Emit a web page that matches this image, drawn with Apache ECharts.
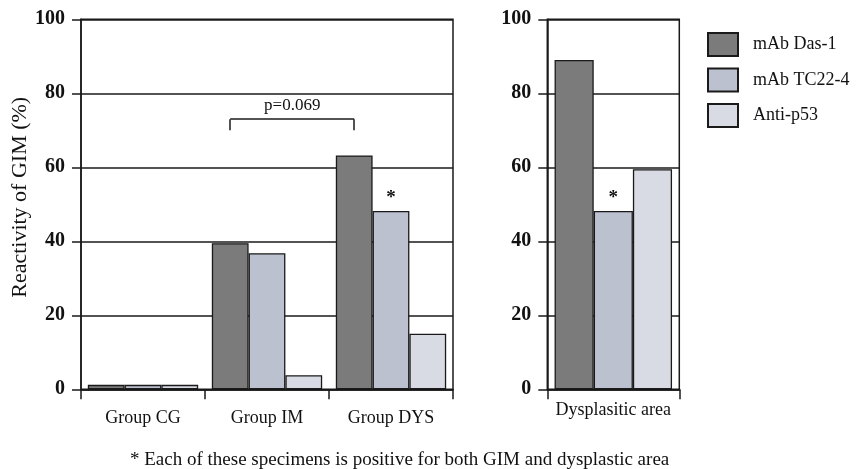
<!DOCTYPE html>
<html>
<head>
<meta charset="utf-8">
<script src="https://cdn.jsdelivr.net/npm/echarts@6/dist/echarts.min.js"></script>
<style>
html,body{margin:0;padding:0;background:#fff;}
#main{width:856px;height:469px;}
</style>
</head>
<body>
<div id="main"></div>
<script>
// ---- data ----
var groupCategories = ['Group CG', 'Group IM', 'Group DYS'];
var areaCategories = ['Dysplasitic area'];
var seriesNames = ['mAb Das-1', 'mAb TC22-4', 'Anti-p53'];
var das1Groups = [1.2, 39.5, 63.2];
var tc224Groups = [1.2, 36.8, 48.2];
var p53Groups = [1.2, 3.8, 15];
var das1Area = [89];
var tc224Area = [48.2];
var p53Area = [59.5];
var yTicks = [0, 20, 40, 60, 80, 100];
var starGroupIndex = 2;          // asterisk on TC22-4, Group DYS
var bracketFrom = 'Group IM', bracketTo = 'Group DYS';
var bracketLevel = 73, bracketLeg = 70, pText = 'p=0.069';
var footnote = '* Each of these specimens is positive for both GIM and dysplastic area';

var colors = ['#7b7b7b', '#bcc1cf', '#d9dbe4'];
var lineColor = '#1a1a1a';
var serif = '"Liberation Serif", "DejaVu Serif", serif';

function withStar(arr, idx) {
  return arr.map(function (v, i) {
    if (i === idx) {
      return { value: v, label: { show: true, position: 'top', formatter: '*', distance: 3,
        fontFamily: serif, fontSize: 19, fontWeight: 'bold', color: '#111' } };
    }
    return v;
  });
}

function yAxis(gridIndex, withName) {
  return {
    type: 'value', gridIndex: gridIndex, min: yTicks[0], max: yTicks[yTicks.length - 1], interval: yTicks[1] - yTicks[0],
    name: withName ? 'Reactivity of GIM (%)' : '',
    nameLocation: 'middle', nameGap: 48, nameRotate: 90,
    nameTextStyle: { fontFamily: serif, fontSize: 22, color: '#111', padding: [0, 0, 0, 14] },
    axisLine: { show: true, lineStyle: { color: lineColor, width: 1.5 } },
    axisTick: { show: true, inside: false, length: 9, lineStyle: { color: lineColor, width: 1.5 } },
    splitLine: { show: true, lineStyle: { color: lineColor, width: 1.5 } },
    axisLabel: { margin: 16, fontFamily: serif, fontSize: 20, fontWeight: 'bold', color: '#111' }
  };
}

function xAxis(gridIndex, data, margin) {
  return {
    type: 'category', gridIndex: gridIndex, data: data,
    axisLine: { show: true, lineStyle: { color: lineColor, width: 1.5 } },
    axisTick: { show: true, inside: false, length: 10, alignWithLabel: false, lineStyle: { color: lineColor, width: 1.5 } },
    axisLabel: { margin: margin, fontFamily: serif, fontSize: 18, color: '#111' },
    splitLine: { show: false }
  };
}

function bar(name, color, data, xi, yi, extra) {
  var s = {
    type: 'bar', barGap: '0%', barCategoryGap: '11%', z: 3,
    name: name, data: data, xAxisIndex: xi, yAxisIndex: yi,
    itemStyle: { color: color, borderColor: lineColor, borderWidth: 1.3 }
  };
  return Object.assign(s, extra || {});
}

var chart = echarts.init(document.getElementById('main'));
var option = {
  backgroundColor: '#fff',
  animation: false,
  grid: [
    { left: 81, width: 372, top: 19.3, height: 370, show: true, borderColor: lineColor, borderWidth: 1.5, backgroundColor: 'transparent' },
    { left: 547.3, width: 132, top: 19.3, height: 370, show: true, borderColor: lineColor, borderWidth: 1.5, backgroundColor: 'transparent' }
  ],
  xAxis: [xAxis(0, groupCategories, 20), xAxis(1, areaCategories, 12)],
  yAxis: [yAxis(0, true), yAxis(1, false)],
  legend: {
    orient: 'vertical', left: 707, top: 32, padding: 0,
    itemWidth: 30, itemHeight: 23, itemGap: 10.5,
    icon: 'rect',
    data: seriesNames,
    textStyle: { fontFamily: serif, fontSize: 18, color: '#111', padding: [0, 0, 0, 10] }
  },
  title: {
    text: footnote, left: 130, top: 451, padding: 0,
    textStyle: { fontFamily: serif, fontSize: 19, fontWeight: 'normal', color: '#111' }
  },
  series: [
    bar(seriesNames[0], colors[0], das1Groups, 0, 0, {
      markLine: {
        silent: true, symbol: 'none',
        lineStyle: { color: lineColor, width: 1.5, type: 'solid' },
        label: { show: false },
        data: [
          [{ coord: [bracketFrom, bracketLevel],
             label: { show: true, position: 'middle', formatter: pText, distance: 5,
                      fontFamily: serif, fontSize: 17, color: '#111' } },
           { coord: [bracketTo, bracketLevel] }],
          [{ coord: [bracketFrom, bracketLeg] }, { coord: [bracketFrom, bracketLevel] }],
          [{ coord: [bracketTo, bracketLeg] }, { coord: [bracketTo, bracketLevel] }]
        ]
      }
    }),
    bar(seriesNames[1], colors[1], withStar(tc224Groups, starGroupIndex), 0, 0),
    bar(seriesNames[2], colors[2], p53Groups, 0, 0),
    bar(seriesNames[0], colors[0], das1Area, 1, 1),
    bar(seriesNames[1], colors[1], withStar(tc224Area, 0), 1, 1),
    bar(seriesNames[2], colors[2], p53Area, 1, 1)
  ]
};
chart.setOption(option);
</script>
</body>
</html>
